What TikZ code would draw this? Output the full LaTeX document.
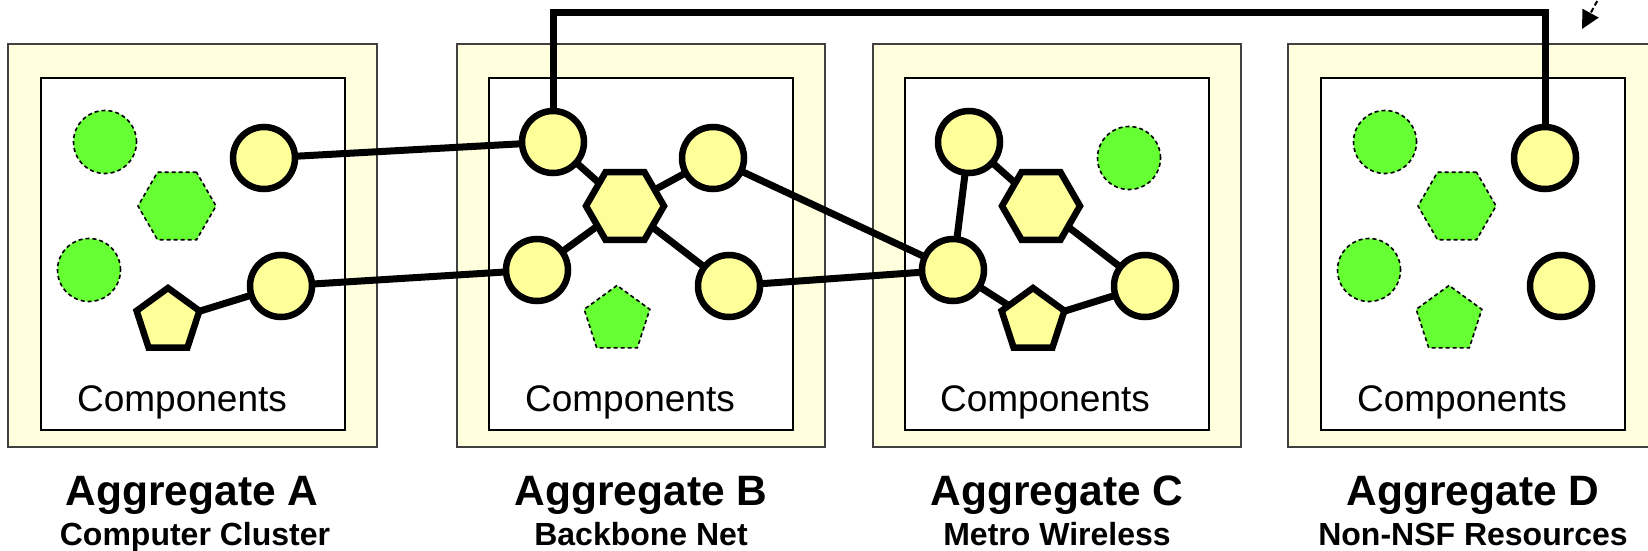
\documentclass[tikz,border=0pt]{standalone}
\usepackage{fontspec}
\setmainfont{Liberation Sans}
\usetikzlibrary{shapes.geometric,arrows.meta}
\definecolor{yel}{RGB}{255,255,153}
\definecolor{boxyel}{RGB}{255,255,221}
\definecolor{grn}{RGB}{102,255,51}
\pgfdeclarelayer{bg}
\pgfdeclarelayer{edges}
\pgfsetlayers{bg,edges,main}
\tikzset{
  ycirc/.style={circle,draw=black,line width=6.5pt,fill=yel,minimum size=62pt,inner sep=0pt},
  gcirc/.style={circle,draw=black,dash pattern=on 4pt off 3pt,line width=1.6pt,fill=grn,minimum size=63pt,inner sep=0pt},
  yhex/.style={regular polygon,regular polygon sides=6,draw=black,line width=6.5pt,fill=yel,minimum size=78pt,inner sep=0pt},
  ghex/.style={regular polygon,regular polygon sides=6,draw=black,dash pattern=on 4pt off 3pt,line width=1.6pt,fill=grn,minimum size=78pt,inner sep=0pt},
  ypent/.style={regular polygon,regular polygon sides=5,draw=black,line width=6.5pt,fill=yel,minimum size=66pt,inner sep=0pt},
  gpent/.style={regular polygon,regular polygon sides=5,draw=black,dash pattern=on 4pt off 3pt,line width=1.6pt,fill=grn,minimum size=69pt,inner sep=0pt},
  conn/.style={line width=7pt,draw=black},
  outerbox/.style={draw=black!75,line width=2pt,fill=boxyel},
  innerbox/.style={draw=black,line width=2pt,fill=white},
  comptext/.style={anchor=base,font=\fontsize{37}{44}\selectfont,inner sep=0pt},
  titletext/.style={anchor=base,font=\fontsize{42.5}{50}\selectfont\bfseries,inner sep=0pt},
  subtext/.style={anchor=base,font=\fontsize{32}{38}\selectfont\bfseries,inner sep=0pt},
}
\begin{document}
\begin{tikzpicture}[x=1pt,y=-1pt]
\clip (0,0) rectangle (1648,551);
\begin{pgfonlayer}{bg}
% aggregate boxes
\path[outerbox] (8,44) rectangle (377,447);
\path[innerbox] (41,78) rectangle (345,430);
\path[outerbox] (457,44) rectangle (825,447);
\path[innerbox] (489,78) rectangle (793,430);
\path[outerbox] (873,44) rectangle (1241,447);
\path[innerbox] (905,78) rectangle (1209,430);
\path[outerbox] (1288,44) rectangle (1658,447);
\path[innerbox] (1321,78) rectangle (1625,430);
\end{pgfonlayer}
% Aggregate A
\node[gcirc] (gA1) at (105,142) {};
\node[ghex] (ghA) at (177,206) {};
\node[gcirc] (gA2) at (89,270) {};
\node[ycirc] (yA1) at (264,158) {};
\node[ypent] (ypA) at (168,321) {};
\node[ycirc] (yA2) at (281,286) {};
\node[comptext] (compA) at (182,411) {Components};
\node[titletext] (titA) at (192,505) {Aggregate A};
\node[subtext] (subA) at (195,545) {Computer Cluster};
% Aggregate B
\node[ycirc] (yB1) at (553,142) {};
\node[ycirc] (yB2) at (713,158) {};
\node[yhex] (yhB) at (625,206) {};
\node[ycirc] (yB3) at (537,270) {};
\node[ycirc] (yB4) at (729,286) {};
\node[gpent] (gpB) at (617,320) {};
\node[comptext] (compB) at (630,411) {Components};
\node[titletext] (titB) at (641,505) {Aggregate B};
\node[subtext] (subB) at (641,545) {Backbone Net};
% Aggregate C
\node[ycirc] (yC1) at (969,142) {};
\node[yhex] (yhC) at (1041,206) {};
\node[gcirc] (gC) at (1129,158) {};
\node[ycirc] (yC2) at (953,270) {};
\node[ypent] (ypC) at (1033,321) {};
\node[ycirc] (yC3) at (1145,286) {};
\node[comptext] (compC) at (1045,411) {Components};
\node[titletext] (titC) at (1057,505) {Aggregate C};
\node[subtext] (subC) at (1057,545) {Metro Wireless};
% Aggregate D
\node[gcirc] (gD1) at (1385,142) {};
\node[ghex] (ghD) at (1457,206) {};
\node[ycirc] (yD1) at (1545,158) {};
\node[gcirc] (gD2) at (1369,270) {};
\node[gpent] (gpD) at (1449,320) {};
\node[ycirc] (yD2) at (1561,286) {};
\node[comptext] (compD) at (1462,411) {Components};
\node[titletext] (titD) at (1473,505) {Aggregate D};
\node[subtext] (subD) at (1473,545) {Non-NSF Resources};
% connectors
\coordinate (topy) at (0,12.5);
\coordinate (arrS) at (1601,-6);
\coordinate (arrE) at (1582,29);
\begin{pgfonlayer}{edges}
\draw[conn] (yA1.center) -- (yB1.center);
\draw[conn] (yA2.center) -- (yB3.center);
\draw[conn] (ypA.center) -- (yA2.center);
\draw[conn] (yB1.center) -- (yhB.center);
\draw[conn] (yhB.center) -- (yB2.center);
\draw[conn] (yhB.center) -- (yB3.center);
\draw[conn] (yhB.center) -- (yB4.center);
\draw[conn] (yB2.center) -- (yC2.center);
\draw[conn] (yB4.center) -- (yC2.center);
\draw[conn] (yC1.center) -- (yC2.center);
\draw[conn] (yC1.center) -- (yhC.center);
\draw[conn] (yhC.center) -- (yC3.center);
\draw[conn] (yC2.center) -- (ypC.center);
\draw[conn] (ypC.center) -- (yC3.center);
\draw[conn] (yB1.center) -- (yB1.center |- topy) -| (yD1.center);
\end{pgfonlayer}
\draw[line width=2pt,dash pattern=on 5pt off 3pt,-{Triangle[length=18pt,width=18pt]}] (arrS) -- (arrE);
\end{tikzpicture}
\end{document}
